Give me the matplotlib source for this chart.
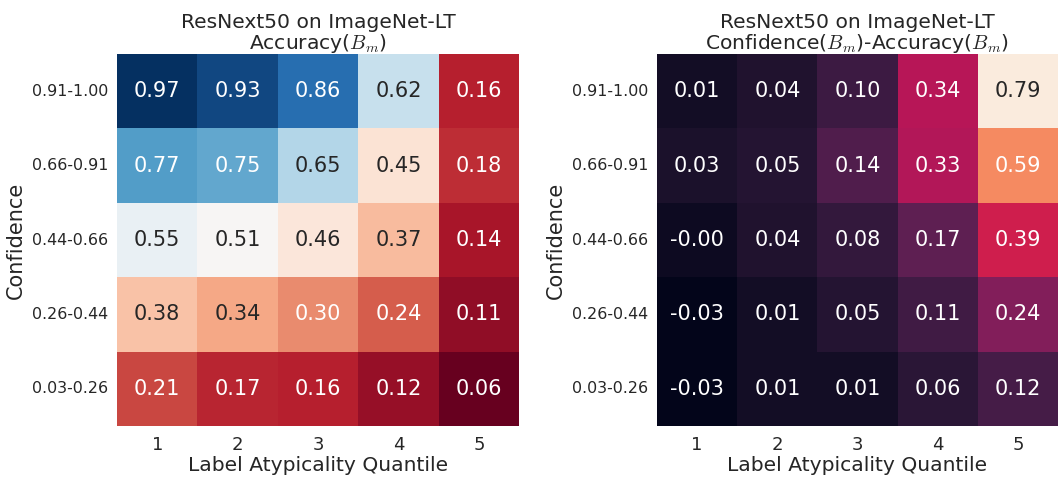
import numpy as np
import matplotlib
matplotlib.use("Agg")
import matplotlib.pyplot as plt
import seaborn as sns

row_labels = ["0.91-1.00", "0.66-0.91", "0.44-0.66", "0.26-0.44", "0.03-0.26"]
col_labels = ["1", "2", "3", "4", "5"]

accuracy = [
    [0.97, 0.93, 0.86, 0.62, 0.16],
    [0.77, 0.75, 0.65, 0.45, 0.18],
    [0.55, 0.51, 0.46, 0.37, 0.14],
    [0.38, 0.34, 0.30, 0.24, 0.11],
    [0.21, 0.17, 0.16, 0.12, 0.06],
]
gap = [
    [0.01, 0.04, 0.10, 0.34, 0.79],
    [0.03, 0.05, 0.14, 0.33, 0.59],
    [-0.004, 0.04, 0.08, 0.17, 0.39],
    [-0.03, 0.01, 0.05, 0.11, 0.24],
    [-0.03, 0.01, 0.01, 0.06, 0.12],
]

sns.set_theme(style="white")
plt.rcParams['font.family'] = ['DejaVu Sans']
plt.rcParams['mathtext.fontset'] = 'cm'

fig = plt.figure(figsize=(10.58, 4.83), dpi=100)
ax1 = fig.add_axes([0.1106, 0.118, 0.38, 0.770])
ax2 = fig.add_axes([0.621, 0.118, 0.379, 0.770])

sns.heatmap(np.array(accuracy), ax=ax1, cmap="RdBu", annot=True, fmt=".2f",
            annot_kws={"size": 15}, cbar=False,
            xticklabels=col_labels, yticklabels=row_labels)
sns.heatmap(np.array(gap), ax=ax2, cmap="rocket", annot=True, fmt=".2f",
            annot_kws={"size": 15}, cbar=False,
            xticklabels=col_labels, yticklabels=row_labels)

for ax, t in [(ax1, "ResNext50 on ImageNet-LT\nAccuracy($B_m$)"),
              (ax2, "ResNext50 on ImageNet-LT\nConfidence($B_m$)-Accuracy($B_m$)")]:
    ax.set_title(t, fontsize=14.6, linespacing=1.0, pad=4)
    ax.set_xlabel("Label Atypicality Quantile", fontsize=14.6, labelpad=1)
    ax.set_ylabel("Confidence", fontsize=15)
    ax.tick_params(axis='x', labelsize=13, rotation=0, pad=1.5)
    ax.tick_params(axis='y', labelsize=11.4, rotation=0, pad=0.5)

fig.savefig("out.png", dpi=100)
